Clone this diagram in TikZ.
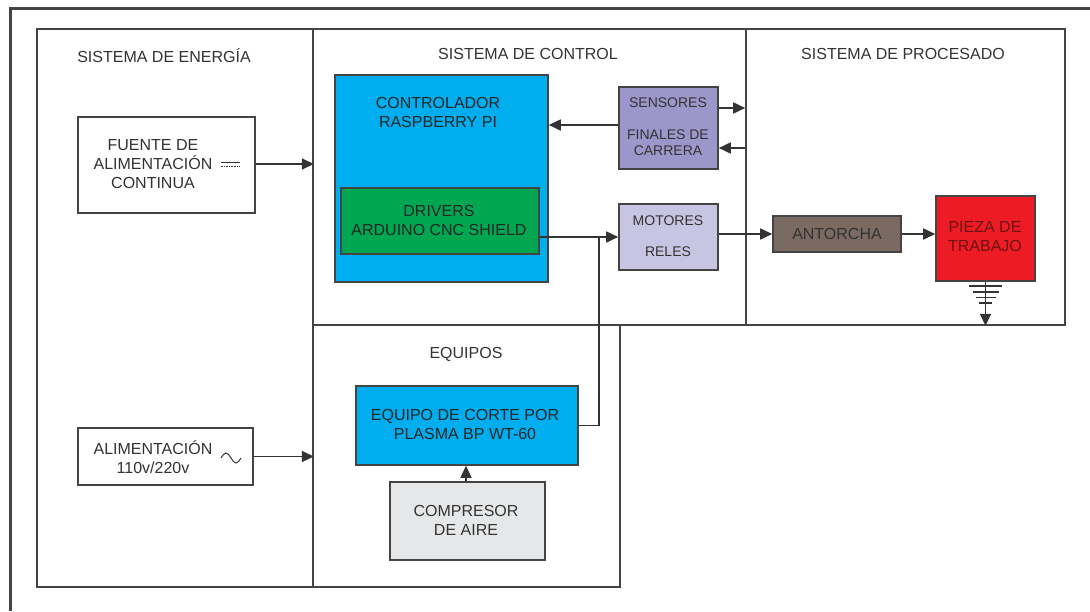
\documentclass[tikz,border=0pt]{standalone}
\usepackage{fontspec}
\setmainfont{Liberation Sans}
\usetikzlibrary{arrows.meta,fit,calc}
\definecolor{ink}{HTML}{333333}
\definecolor{frame}{HTML}{444444}
\definecolor{cyanbox}{HTML}{00AEEF}
\definecolor{greenbox}{HTML}{00A650}
\definecolor{sensbox}{HTML}{9C96CB}
\definecolor{motbox}{HTML}{C8C5E2}
\definecolor{torchbox}{HTML}{7B6A61}
\definecolor{redbox}{HTML}{ED1C24}
\definecolor{greybox}{HTML}{E6E7E8}
\definecolor{redtext}{HTML}{6E1214}
\begin{document}
\begin{tikzpicture}[x=1pt,y=-1pt,
  panel/.style={draw=frame, line width=1.6pt, inner sep=0pt},
  blk/.style={draw=frame, line width=1.6pt, inner sep=0pt},
  title/.style={text=ink, inner sep=0pt, font=\fontsize{16}{19}\selectfont, align=center},
  small/.style={title, font=\fontsize{14}{16}\selectfont},
  conn/.style={draw=ink, line width=1.7pt},
  arr/.style={conn, -{Triangle[length=12pt,width=11pt]}}]
\useasboundingbox (0,0) rectangle (1090,611);
\fill[white] (0,0) rectangle (1090,611);
% outer frame
\draw[frame, line width=3pt] (10,611) -- (10,8) -- (1090,8);
% panels
\node[panel, fit={(37,29) (313,587)}] (energia) {};
\node[panel, fit={(313,29) (746,325)}] (control) {};
\node[panel, fit={(746,29) (1065,325)}] (proc) {};
\node[panel, fit={(313,325) (620,587)}] (equipos) {};
% titles
\node[title] (tEner) at (164,56) {SISTEMA DE ENERGÍA};
\node[title] (tCtrl) at (528,54) {SISTEMA DE CONTROL};
\node[title] (tProc) at (903,54) {SISTEMA DE PROCESADO};
\node[title] (tEq) at (466,354) {EQUIPOS};
% energy blocks
\node[blk, fit={(78,117) (255,213)}] (fuente) {};
\node[title] (fuentetxt) at (153,164) {FUENTE DE\\ALIMENTACIÓN\\CONTINUA};
\draw[ink, line width=0.9pt] (221,162) -- (240,162);
\draw[ink, line width=0.7pt, dash pattern=on 1.6pt off 1pt] (221,166) -- (240,166);
\node[blk, fit={(78,428) (253,485)}] (alim) {};
\node[title] (alimtxt) at (153,457.5) {ALIMENTACIÓN\\110v/220v};
\draw[ink, line width=1pt] (221,458) sin (226,453) cos (231,458) sin (236,463) cos (241,458);
% control blocks
\node[blk, fill=cyanbox, fit={(335,75) (548,282)}] (ctrl) {};
\node[title, text=black!85] (ctrltxt) at (438,112.5) {CONTROLADOR\\RASPBERRY PI};
\node[blk, fill=greenbox, fit={(341,188) (539,254)}] (drivers) {};
\node[title, text=black!85] (drvtxt) at (439,220) {DRIVERS\\ARDUINO CNC SHIELD};
\node[blk, fill=sensbox, fit={(619,87) (718,169)}] (sens) {};
\node[small] (senstxt) at (668,103) {SENSORES};
\node[small] (fintxt) at (668,142.5) {FINALES DE\\CARRERA};
\node[blk, fill=motbox, fit={(619,204) (718,270)}] (mot) {};
\node[small] (mottxt) at (668,221) {MOTORES};
\node[small] (reltxt) at (668,252) {RELES};
% processing blocks
\node[blk, fill=torchbox, fit={(773,216) (901,252)}] (torch) {};
\node[title] (torchtxt) at (837,233.5) {ANTORCHA};
\node[blk, fill=redbox, fit={(936,196) (1035,281)}] (pieza) {};
\node[title, text=redtext] (piezatxt) at (985,236.5) {PIEZA DE\\TRABAJO};
% equipment blocks
\node[blk, fill=cyanbox, fit={(356,386) (578,465)}] (plasma) {};
\node[title, text=black!85] (plasmatxt) at (465,424) {EQUIPO DE CORTE POR\\PLASMA BP WT-60};
\node[blk, fill=greybox, fit={(390,482) (545,560)}] (comp) {};
\node[title] (comptxt) at (466,520) {COMPRESOR\\DE AIRE};
% connectors
\draw[arr] (fuente.east |- 0,164) -- (energia.east |- 0,164);
\draw[arr] (alim.east) -- (alim.east -| energia.east);
\draw[arr] (sens.west |- 0,125) -- (ctrl.east |- 0,125);
\draw[arr] (sens.east |- 0,108) -- (proc.west |- 0,108);
\draw[arr] (proc.west |- 0,148) -- (sens.east |- 0,148);
\coordinate (j) at (599,237);
\draw[arr] (drivers.east |- j) -- (mot.west |- j);
\draw[conn] (plasma.east) -| (j);
\draw[arr] (mot.east |- torch.west) -- (torch.west);
\draw[arr] (torch.east) -- (pieza.west |- torch.east);
\draw[arr] (comp.north -| 466,0) -- (plasma.south -| 466,0);
\draw[arr] (pieza.south) -- (pieza.south |- proc.south);
% ground symbol
\draw[ink, line width=1.3pt] (969,286) -- (1002,286) (972.5,292) -- (999,292) (976,297.5) -- (995.5,297.5) (979,303) -- (992,303);
\end{tikzpicture}
\end{document}
